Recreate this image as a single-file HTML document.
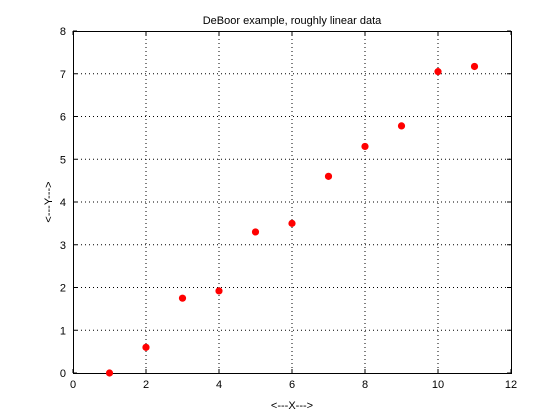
<!DOCTYPE html>
<html><head><meta charset="utf-8"><style>
body{margin:0;background:#fff;}
svg{display:block;font-family:"Liberation Sans",sans-serif;}
</style></head><body>
<svg id="chart" width="560" height="420" viewBox="0 0 560 420" xmlns="http://www.w3.org/2000/svg">
<rect x="0" y="0" width="560" height="420" fill="#fff"/>
<g id="grid"></g>
<g id="axes"></g>
<g id="points"></g>
<text x="292" y="24" font-size="11" text-anchor="middle">DeBoor example, roughly linear data</text>
<text x="292" y="409" font-size="11" text-anchor="middle">&lt;---X---&gt;</text>
<text x="0" y="0" font-size="11" text-anchor="middle" transform="translate(52,202) rotate(-90)">&lt;---Y---&gt;</text>
</svg>
<script>
const xData=[1,2,3,4,5,6,7,8,9,10,11];
const yData=[0,0.6,1.75,1.92,3.3,3.5,4.6,5.3,5.78,7.05,7.17];
const xTicks=[0,2,4,6,8,10,12];
const yTicks=[0,1,2,3,4,5,6,7,8];
const L=73,R=511,T=31,B=373;
const sx=v=>L+(v-0)/(12-0)*(R-L);
const sy=v=>B-(v-0)/(8-0)*(B-T);
const NS="http://www.w3.org/2000/svg";
const grid=document.getElementById('grid'),axes=document.getElementById('axes'),pts=document.getElementById('points');
function mk(tag,attrs,parent){const e=document.createElementNS(NS,tag);for(const k in attrs)e.setAttribute(k,attrs[k]);parent.appendChild(e);return e;}
xTicks.forEach(t=>{
  const x=sx(t);
  if(t>0&&t<12){const g=mk('line',{x1:x,x2:x,y1:T,y2:B,stroke:'#000','stroke-width':1,'stroke-dasharray':'1,3'},grid);
  
  }
  const a=mk('line',{x1:x,x2:x,y1:B,y2:B-4,stroke:'#000'},axes);
  
  
  const b=mk('line',{x1:x,x2:x,y1:T,y2:T+4,stroke:'#000'},axes);
  
  
  const l=mk('text',{x:x,y:B+15,'font-size':11,'text-anchor':'middle'},axes);l.textContent=t;
  
  
});
yTicks.forEach(t=>{
  const y=sy(t);
  if(t>0&&t<8){const g=mk('line',{x1:L,x2:R,y1:y,y2:y,stroke:'#000','stroke-width':1,'stroke-dasharray':'1,3'},grid);
  
  }
  const a=mk('line',{x1:L,x2:L+4,y1:y,y2:y,stroke:'#000'},axes);
  
  
  const b=mk('line',{x1:R,x2:R-4,y1:y,y2:y,stroke:'#000'},axes);
  
  
  const l=mk('text',{x:L-7,y:y+4,'font-size':11,'text-anchor':'end'},axes);l.textContent=t;
  
  
});
const box=mk('rect',{x:L+0.5,y:T+0.5,width:R-L,height:B-T,fill:'none',stroke:'#000'},axes);


xData.forEach((x,i)=>{
  const c=mk('circle',{cx:sx(x),cy:sy(yData[i]),r:3.6,fill:'#f00'},pts);
  
  
});
</script>
</body></html>
